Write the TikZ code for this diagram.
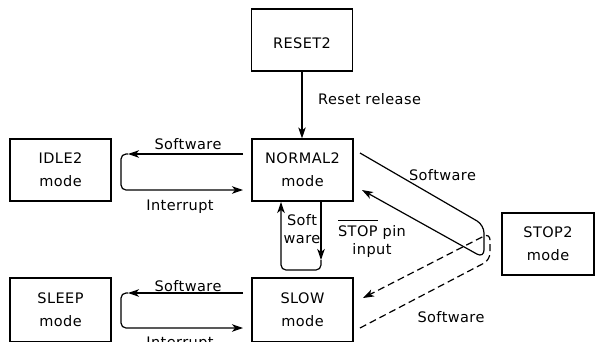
\documentclass[tikz,border=0pt]{standalone}
\usepackage{fontspec}
\setmainfont[LetterSpace=3]{DejaVu Sans}
\usetikzlibrary{arrows.meta,calc}
\newcommand\myovl[1]{\setbox0=\hbox{#1}\rlap{\rule[15.5pt]{\wd0}{0.8pt}}#1}
\begin{document}
\begin{tikzpicture}[x=1pt,y=-1pt,
  font=\fontsize{14.5}{23}\selectfont,
  box/.style={draw, line width=1.2pt, minimum width=101pt, minimum height=62pt, align=center, inner sep=0pt, execute at begin node=\rule{0pt}{17pt}},
  conn/.style={line width=1.2pt},
  arr/.style={conn, -{Stealth[length=11pt,width=7.5pt,inset=3pt]}},
  dsh/.style={dash pattern=on 7pt off 4pt},
  lbl/.style={inner sep=0pt, anchor=base}]
\useasboundingbox (0,0) rectangle (595,341);
% boxes
\node[box] (reset) at (302,40) {RESET2};
\node[box] (normal) at (302.5,170) {NORMAL2\\mode};
\node[box] (idle) at (60.5,170) {IDLE2\\mode};
\node[box, minimum height=64pt] (slow) at (302.5,310) {SLOW\\mode};
\node[box, minimum height=64pt] (sleep) at (60.5,310) {SLEEP\\mode};
\node[box, minimum width=92pt] (stop) at (548,244) {STOP2\\mode};
% reset
\draw[arr] (reset.south) -- (reset.south |- normal.north);
\node[lbl, anchor=base west] (lrr) at (318,104) {Reset release};
% normal <-> idle
\coordinate (niA) at (243,154); \coordinate (niB) at (128,154);
\coordinate (niC) at (121,154); \coordinate (niD) at (121,190);
\coordinate (niE) at (243,190);
\draw[arr] (niA) -- (niB);
\draw[arr, rounded corners=5pt] (niB) -- (niC) -- (niD) -- (niE);
\node[lbl] (lsw1) at (188,149.5) {Software};
\node[lbl] (lint1) at (180,210) {Interrupt};
% slow <-> sleep
\coordinate (slA) at (243,293); \coordinate (slB) at (128,293);
\coordinate (slC) at (121,293); \coordinate (slD) at (121,328);
\coordinate (slE) at (243,328);
\draw[arr] (slA) -- (slB);
\draw[arr, rounded corners=5pt] (slB) -- (slC) -- (slD) -- (slE);
\node[lbl] (lsw2) at (188,291) {Software};
\node[lbl] (lint2) at (180,347) {Interrupt};
% normal <-> slow
\coordinate (nsA) at (321,201); \coordinate (nsB) at (321,260);
\coordinate (nsC) at (321,270); \coordinate (nsD) at (281,270);
\coordinate (nsE) at (281,202);
\draw[arr] (nsA) -- (nsB);
\draw[arr, rounded corners=5pt] (nsB) -- (nsC) -- (nsD) -- (nsE);
\node[lbl] (lsoft) at (302,225) {Soft};
\node[lbl] (lware) at (302,243) {ware};
% normal <-> stop (solid)
\coordinate (stA) at (360,153); \coordinate (stB) at (484,225);
\coordinate (stC) at (484,258); \coordinate (stD) at (362,190);
\draw[arr, rounded corners=8pt] (stA) -- (stB) -- (stC) -- (stD);
\node[lbl] (lsw3) at (442.5,180) {Software};
% slow <-> stop (dashed)
\coordinate (sdA) at (360,328); \coordinate (sdB) at (490,260);
\coordinate (sdC) at (490,233); \coordinate (sdD) at (363,298);
\draw[arr, dsh, rounded corners=7pt] (sdA) -- (sdB) -- (sdC) -- (sdD);
\node[lbl] (lsw4) at (451,322.5) {Software};
% stop pin label
\node[lbl] (lstop) at (372,236) {\myovl{STOP} pin};
\node[lbl] (linput) at (372,254.5) {input};
\end{tikzpicture}
\end{document}
